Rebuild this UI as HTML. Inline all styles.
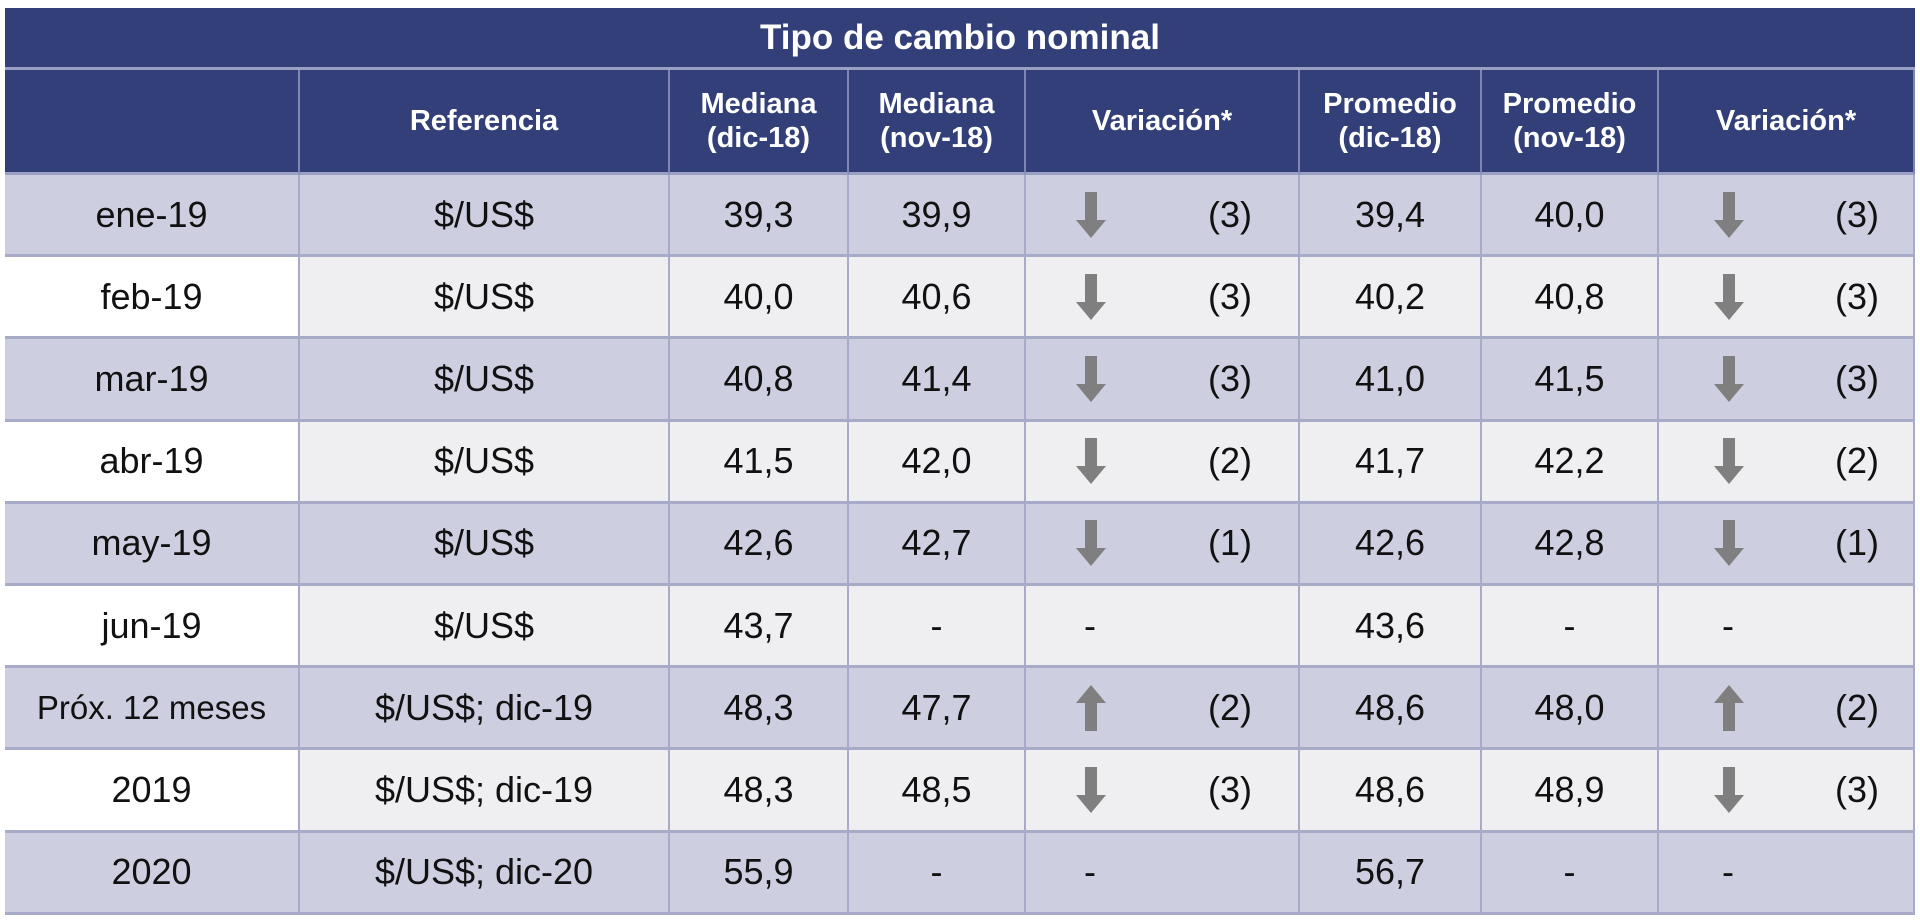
<!DOCTYPE html>
<html><head><meta charset="utf-8">
<style>
body{margin:0;width:1920px;height:923px;background:#fff;overflow:hidden;font-family:"Liberation Sans Narrow","Liberation Sans",sans-serif;}
#t{position:absolute;left:5px;top:8px;width:1910px;}
.c{position:absolute;box-sizing:border-box;display:flex;align-items:center;justify-content:center;text-align:center;border-right:2px solid #a7abc8;border-bottom:3px solid #a7abc8;color:#111;font-size:36px;}
.h{background:#323f78;color:#fff;font-weight:bold;font-size:29px;line-height:34px;border-right:2px solid #7f87b0;border-bottom:3px solid #9aa0c4;}
.arrow{position:absolute;top:50%;transform:translateY(-50%);}
.num{position:absolute;top:50%;transform:translateY(-50%);}
</style></head><body>
<div id="t"></div>
<script>
const rowLabels=["ene-19","feb-19","mar-19","abr-19","may-19","jun-19","Próx. 12 meses","2019","2020"];
const refs=["$/US$","$/US$","$/US$","$/US$","$/US$","$/US$","$/US$;  dic-19","$/US$; dic-19","$/US$; dic-20"];
const medDic=["39,3","40,0","40,8","41,5","42,6","43,7","48,3","48,3","55,9"];
const medNov=["39,9","40,6","41,4","42,0","42,7","-","47,7","48,5","-"];
const varMed=["(3)","(3)","(3)","(2)","(1)","","(2)","(3)",""];
const dirMed=["down","down","down","down","down","-","up","down","-"];
const promDic=["39,4","40,2","41,0","41,7","42,6","43,6","48,6","48,6","56,7"];
const promNov=["40,0","40,8","41,5","42,2","42,8","-","48,0","48,9","-"];
const varProm=["(3)","(3)","(3)","(2)","(1)","","(2)","(3)",""];
const dirProm=["down","down","down","down","down","-","up","down","-"];
const headers=["","Referencia","Mediana<br>(dic-18)","Mediana<br>(nov-18)","Variación*","Promedio<br>(dic-18)","Promedio<br>(nov-18)","Variación*"];
const colX=[0,295,665,844,1021,1295,1477,1654,1910];
const t=document.getElementById('t');
function cell(x,y,w,h,cls,bg){const d=document.createElement('div');d.className='c '+cls;d.style.left=x+'px';d.style.top=y+'px';d.style.width=w+'px';d.style.height=h+'px';if(bg)d.style.background=bg;t.appendChild(d);return d;}
const title=cell(0,0,1910,62,'h');


title.style.fontSize='35px';title.style.borderRight='none';
title.textContent='Tipo de cambio nominal';
for(let i=0;i<8;i++){const d=cell(colX[i],62,colX[i+1]-colX[i],105,'h');


d.innerHTML=headers[i];}
function arrowSvg(dir){const s=dir==='up'?'<svg width="30" height="46" viewBox="0 0 30 46"><path d="M15 0 L30 18 L21 18 L21 46 L9 46 L9 18 L0 18Z" fill="#7f7f7f"/></svg>':'<svg width="30" height="46" viewBox="0 0 30 46"><path d="M9 0 L21 0 L21 28 L30 28 L15 46 L0 28 L9 28Z" fill="#7f7f7f"/></svg>';return s;}
for(let r=0;r<rowLabels.length;r++){
 const y=167+r*82.2, h=82.2; const odd=r%2===0;
 const bg=odd?'#cdcfe0':'#efeff1';
 const vals=[rowLabels[r],refs[r],medDic[r],medNov[r],null,promDic[r],promNov[r],null];
 for(let i=0;i<8;i++){
  const d=cell(colX[i],y,colX[i+1]-colX[i],h,'',(i===0&&!odd)?'#ffffff':bg);
  
  
  if(i===0)d.style.fontSize=(rowLabels[r].length>8?'33px':'36px');
  if(vals[i]!==null){d.textContent=vals[i];}
  else{
   const dir=i===4?dirMed[r]:dirProm[r]; const v=i===4?varMed[r]:varProm[r];
   const w=colX[i+1]-colX[i]; const ax=i===4?50:55; const nr=i===4?46:34;
   if(dir==='-'){const a=document.createElement('span');a.className='arrow';a.style.left=(ax+8)+'px';a.textContent='-';d.appendChild(a);}
   else{const a=document.createElement('span');a.className='arrow';a.style.left=ax+'px';a.style.height='46px';a.innerHTML=arrowSvg(dir);
   
   
   d.appendChild(a);}
   const n=document.createElement('span');n.className='num';n.style.right=nr+'px';n.textContent=v;d.appendChild(n);
  }
 }
}
</script>
</body></html>
